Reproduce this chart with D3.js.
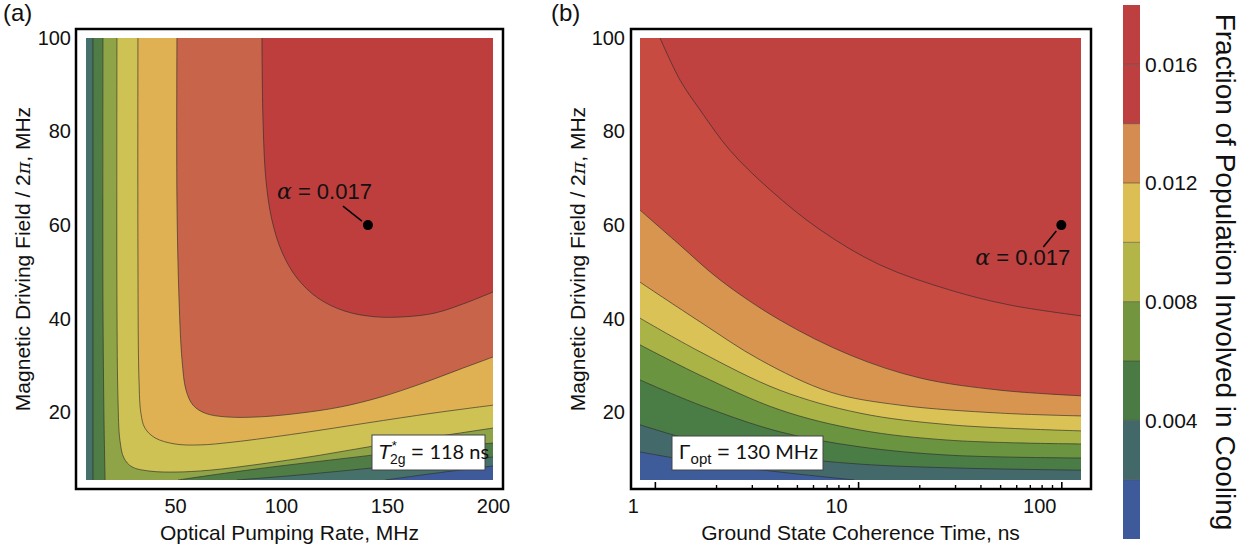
<!DOCTYPE html>
<html>
<head>
<meta charset="utf-8">
<script src="https://cdn.jsdelivr.net/npm/d3@7"></script>
<style>
  body { margin: 0; background: #fff; }
  svg text { font-family: "Liberation Sans", Arial, sans-serif; fill: #111; }
</style>
</head>
<body>
<svg id="fig" width="1251" height="552"></svg>
<script>
// ---- values ----
var levels = [0.002, 0.004, 0.006, 0.008, 0.010, 0.012, 0.014, 0.016];
var cbarDomain = [0, 0.018];
var cbarTicks = [0.004, 0.008, 0.012, 0.016];
var cbarColors = ['#3f5a9b', '#436869', '#4a7b45', '#74953f', '#b3b548', '#dbbf55', '#d48c50', '#be3f3f', '#be3f3f'];

var yTicks = [20, 40, 60, 80, 100];
var aXDomain = [8, 200], aYDomain = [5.5, 100];
var aXTicks = [50, 100, 150, 200];
var bXDomain = [0.845, 125], bYDomain = [5.5, 100];
var bXTicks = [1, 10, 100];
var bXMinor = [2, 3, 4, 5, 6, 7, 8, 9, 20, 30, 40, 50, 60, 70, 80, 90];

// panel (a): contour lines [pumping rate MHz, field MHz], low level first
var aLevel1 = [[8, 100], [8, 5.5], [149.1, 5.5], [170.3, 6.8], [189.2, 7.9], [200, 8.5]];
var aLevel2 = [[11.3, 100], [11.3, 5.5], [79.2, 5.5], [104.2, 6.4], [132.5, 7.6], [165.6, 9.1], [200, 10.4]];
var aLevel3 = [[16.0, 100], [16.0, 44.0], [16.5, 18.3], [17.0, 5.5], [51.4, 5.5], [71.2, 6.8], [99.5, 8.5], [127.8, 10.0], [156.1, 11.5], [179.7, 12.6], [200, 13.4]];
var aLevel4 = [[22.6, 100], [22.6, 44.0], [23.1, 22.6], [24.0, 14.0], [25.9, 10.2], [29.7, 8.3], [38.2, 7.4], [50.0, 7.2], [66.5, 7.6], [90.1, 8.9], [118.4, 10.8], [146.7, 13.0], [175.0, 14.9], [200, 16.6]];
var aLevel5 = [[32.5, 100], [32.5, 54.7], [33.0, 26.9], [33.9, 19.8], [35.8, 16.6], [40.6, 14.5], [50.0, 13.2], [61.8, 13.0], [77.3, 13.6], [109.0, 15.5], [140.6, 17.7], [171.7, 19.8], [200, 21.5]];
var aLevel6 = [[50.9, 100], [50.9, 65.4], [51.9, 44.0], [53.3, 31.2], [55.2, 24.7], [58.5, 21.5], [64.1, 19.8], [73.6, 19.0], [90.1, 19.0], [109.0, 19.8], [127.9, 21.1], [146.8, 23.2], [165.6, 26.0], [184.5, 29.2], [200, 31.8]];
var aLevel7 = [[91.0, 100], [91.5, 82.5], [92.9, 69.6], [95.7, 61.1], [100.5, 54.2], [107.5, 48.7], [117.4, 44.4], [130.2, 41.6], [144.3, 40.4], [158.5, 40.4], [172.6, 41.2], [186.8, 43.3], [200, 45.7]];
var aFill = ['#3f5a9a', '#46706a', '#4f7d45', '#8fa447', '#cdc253', '#dfb152', '#c8644a', '#be3e3e'];

// panel (b): contour lines [coherence time ns, field MHz], low level first
var bLevel1 = [[0.845, 11.5], [1.67, 9.3], [4.12, 7.2], [9.6, 5.5]];
var bLevel2 = [[0.845, 17.3], [1.67, 13.6], [4.12, 10.6], [10.2, 8.9], [28.4, 8.1], [125, 7.6]];
var bLevel3 = [[0.845, 26.9], [1.67, 21.5], [4.12, 15.8], [10.2, 12.6], [28.4, 10.8], [125, 10.2]];
var bLevel4 = [[0.845, 34.4], [1.67, 27.9], [4.12, 20.5], [10.2, 16.2], [28.4, 14.0], [125, 13.2]];
var bLevel5 = [[0.845, 40.1], [1.67, 32.9], [4.12, 24.7], [10.2, 19.8], [28.4, 17.3], [125, 16.0]];
var bLevel6 = [[0.845, 47.8], [1.67, 39.3], [3.29, 31.2], [7.3, 24.3], [16.1, 21.5], [50, 19.8], [125, 19.2]];
var bLevel7 = [[0.845, 63.2], [1.33, 55.7], [2.09, 48.3], [4.12, 39.7], [9.14, 32.2], [20.2, 27.3], [50, 24.7], [125, 23.5]];
var bLevel8 = [[1.06, 100], [1.33, 91], [1.67, 84.6], [2.34, 76], [3.7, 67.5], [6.5, 59], [12.8, 51.5], [28.4, 46.1], [56, 42.9], [125, 40.6]];
var bFill = ['#3e5c9a', '#44696a', '#4a7c46', '#6a9440', '#aab446', '#dbc256', '#d8954f', '#c74b41', '#bf4140'];

var aMarker = [141, 60];
var bMarker = [100, 60];
var alphaValue = '0.017';

var svg = d3.select('#fig');

// perimeter position, counter-clockwise from bottom-right corner
function perim(p, r) {
    var w = r.x1 - r.x0, h = r.y1 - r.y0, e = 0.5;
    if (Math.abs(p[0] - r.x1) < e) return (r.y1 - p[1]) / h;
    if (Math.abs(p[1] - r.y0) < e) return 1 + (r.x1 - p[0]) / w;
    if (Math.abs(p[0] - r.x0) < e) return 2 + (p[1] - r.y0) / h;
    return 3 + (p[0] - r.x0) / w;
}

function closingCorners(pts, r) {
    var corners = [[r.x1, r.y0], [r.x0, r.y0], [r.x0, r.y1], [r.x1, r.y1]];
    var se = perim(pts[pts.length - 1], r);
    var ss = perim(pts[0], r);
    if (ss <= se) ss += 4;
    var out = [];
    for (var k = 1; k <= 8; k++) {
        if (k > se + 1e-6 && k < ss - 1e-6) out.push(corners[(k - 1) % 4]);
    }
    return out;
}

function sameEdge(p, q, r) {
    var e = 0.5;
    if (Math.abs(p[0] - r.x0) < e && Math.abs(q[0] - r.x0) < e) return true;
    if (Math.abs(p[0] - r.x1) < e && Math.abs(q[0] - r.x1) < e) return true;
    if (Math.abs(p[1] - r.y0) < e && Math.abs(q[1] - r.y0) < e) return true;
    if (Math.abs(p[1] - r.y1) < e && Math.abs(q[1] - r.y1) < e) return true;
    return false;
}

// split a contour into pieces: smooth runs inside the plot, straight runs on its edge
function pieces(pts, r) {
    var out = [], cur = [pts[0]];
    for (var i = 1; i < pts.length; i++) {
        if (sameEdge(pts[i - 1], pts[i], r)) {
            if (cur.length > 1) out.push({edge: false, pts: cur});
            out.push({edge: true, pts: [pts[i - 1], pts[i]]});
            cur = [pts[i]];
        } else {
            cur.push(pts[i]);
        }
    }
    if (cur.length > 1) out.push({edge: false, pts: cur});
    return out;
}

function drawPanel(opt) {
    var r = opt.plot, x = opt.x, y = opt.y;
    var g = svg.append('g');

    svg.append('clipPath').attr('id', 'clip-' + opt.name)
      .append('rect')
        .attr('x', r.x0).attr('y', r.y0)
        .attr('width', r.x1 - r.x0).attr('height', r.y1 - r.y0);

    var body = g.append('g').attr('clip-path', 'url(#clip-' + opt.name + ')');
    body.append('rect')
        .attr('x', r.x0).attr('y', r.y0)
        .attr('width', r.x1 - r.x0).attr('height', r.y1 - r.y0)
        .attr('fill', opt.fill[0]);

    var smooth = d3.line().curve(d3.curveCatmullRom.alpha(0.5));
    var straight = d3.line();

    var scaled = opt.contours.map(function(c) {
        return c.map(function(d) { return [x(d[0]), y(d[1])]; });
    });

    scaled.forEach(function(pts, i) {
        var parts = pieces(pts, r);
        var d = parts.map(function(p, k) {
            var s = p.edge ? straight(p.pts) : smooth(p.pts);
            return k === 0 ? s : s.replace(/^M/, 'L');
        }).join('');
        d += closingCorners(pts, r).map(function(c) { return 'L' + c[0] + ',' + c[1]; }).join('') + 'Z';
        body.append('path').attr('d', d).attr('fill', opt.fill[i + 1]);
    });

    // contour lines, skipping parts that run along the plot edge
    scaled.forEach(function(pts) {
        pieces(pts, r).filter(function(p) { return !p.edge; }).forEach(function(p) {
            body.append('path').attr('d', smooth(p.pts))
                .attr('fill', 'none')
                .attr('stroke', '#2b2b2b')
                .attr('stroke-opacity', 0.7)
                .attr('stroke-width', 0.9);
        });
    });

    // frame
    g.append('rect')
        .attr('x', opt.frame.x0).attr('y', opt.frame.y0)
        .attr('width', opt.frame.x1 - opt.frame.x0).attr('height', opt.frame.y1 - opt.frame.y0)
        .attr('fill', 'none').attr('stroke', '#000').attr('stroke-width', 2.5);

    // y axis labels
    var ya = g.append('g')
        .attr('transform', 'translate(' + opt.yLabelX + ',0)')
        .call(d3.axisLeft(y).tickValues(yTicks).tickSize(0).tickPadding(0));
    ya.select('.domain').remove();
    ya.selectAll('text').attr('font-size', 20).attr('fill', '#111');

    // panel letter
    g.append('text').attr('x', opt.letterX).attr('y', 21)
        .attr('font-size', 24).text(opt.letter);

    // axis titles
    g.append('text')
        .attr('x', (r.x0 + r.x1) / 2).attr('y', 540)
        .attr('text-anchor', 'middle').attr('font-size', 21)
        .text(opt.xTitle);

    var yt = g.append('text')
        .attr('transform', 'translate(' + opt.yTitleX + ',' + (r.y0 + r.y1) / 2 + ') rotate(-90)')
        .attr('text-anchor', 'middle').attr('font-size', 21);
    yt.append('tspan').text('Magnetic Driving Field / 2');
    yt.append('tspan').attr('font-style', 'italic').attr('font-family', 'DejaVu Serif').attr('font-size', 19).text('\u03c0');
    yt.append('tspan').text(', MHz');

    return g;
}

function alphaMark(g, px, py, tx, ty, l0, l1) {
    g.append('line')
        .attr('x1', px + l0[0]).attr('y1', py + l0[1])
        .attr('x2', px + l1[0]).attr('y2', py + l1[1])
        .attr('stroke', '#000').attr('stroke-width', 1.5);
    g.append('circle').attr('cx', px).attr('cy', py).attr('r', 5).attr('fill', '#000');
    var t = g.append('text').attr('x', px + tx).attr('y', py + ty).attr('font-size', 22);
    t.append('tspan').attr('font-style', 'italic').attr('font-family', 'DejaVu Serif').text('\u03b1');
    t.append('tspan').text(' = ' + alphaValue);
}

// ---- panel (a) ----
var aPlot = {x0: 86, x1: 493, y0: 38, y1: 480};
var ax = d3.scaleLinear().domain(aXDomain).range([aPlot.x0, aPlot.x1]);
var ay = d3.scaleLinear().domain(aYDomain).range([aPlot.y1, aPlot.y0]);
var ga = drawPanel({
    name: 'a', plot: aPlot, frame: {x0: 76, x1: 503, y0: 29, y1: 489},
    x: ax, y: ay, fill: aFill,
    contours: [aLevel1, aLevel2, aLevel3, aLevel4, aLevel5, aLevel6, aLevel7],
    yLabelX: 71, letter: '(a)', letterX: 3, yTitleX: 30,
    xTitle: 'Optical Pumping Rate, MHz'
});
var axa = ga.append('g').attr('transform', 'translate(0,489)')
    .call(d3.axisBottom(ax).tickValues(aXTicks).tickSize(0).tickPadding(10));
axa.select('.domain').remove();
axa.selectAll('text').attr('font-size', 20).attr('fill', '#111');

alphaMark(ga, ax(aMarker[0]), ay(aMarker[1]), -91, -26, [-25, -19], [-6, -4]);

// inset (a)
ga.append('rect').attr('x', 372).attr('y', 435).attr('width', 113).attr('height', 35)
    .attr('fill', '#fff').attr('stroke', '#444').attr('stroke-width', 1);
var ta = ga.append('text').attr('x', 378).attr('y', 459).attr('font-size', 21)
    .attr('font-family', 'Liberation Serif');
ta.append('tspan').attr('font-style', 'italic').text('T');
ta.append('tspan').attr('font-size', 13).attr('dy', -9).attr('dx', 1).text('*');
ta.append('tspan').attr('font-size', 14).attr('dy', 14).attr('dx', -7).text('2g');
ta.append('tspan').attr('dy', -5).text(' = ');
ta.append('tspan').attr('font-family', 'Lato').attr('font-size', 20).text('118 ns');

// ---- panel (b) ----
var bPlot = {x0: 640, x1: 1081, y0: 38, y1: 480};
var bx = d3.scaleLog().domain(bXDomain).range([bPlot.x0, bPlot.x1]);
var by = d3.scaleLinear().domain(bYDomain).range([bPlot.y1, bPlot.y0]);
var gb = drawPanel({
    name: 'b', plot: bPlot, frame: {x0: 631, x1: 1091, y0: 29, y1: 489},
    x: bx, y: by, fill: bFill,
    contours: [bLevel1, bLevel2, bLevel3, bLevel4, bLevel5, bLevel6, bLevel7, bLevel8],
    yLabelX: 625, letter: '(b)', letterX: 551, yTitleX: 585,
    xTitle: 'Ground State Coherence Time, ns'
});
var bxMinor = gb.append('g').attr('transform', 'translate(0,488)')
    .call(d3.axisBottom(bx).tickValues(bXMinor).tickSize(-3).tickFormat(''));
bxMinor.select('.domain').remove();
bxMinor.selectAll('line').attr('stroke-width', 1.4);
var bxMajor = gb.append('g').attr('transform', 'translate(0,488)')
    .call(d3.axisBottom(bx).tickValues(bXTicks).tickSize(-6).tickPadding(11).tickFormat(d3.format('d')));
bxMajor.select('.domain').remove();
bxMajor.selectAll('line').attr('stroke-width', 1.6);
bxMajor.selectAll('text').attr('font-size', 20).attr('fill', '#111').attr('dx', -22);

alphaMark(gb, bx(bMarker[0]), by(bMarker[1]), -86, 40, [-18, 22], [-5, 6]);

// inset (b)
gb.append('rect').attr('x', 672).attr('y', 436).attr('width', 151).attr('height', 34)
    .attr('fill', '#fff').attr('stroke', '#444').attr('stroke-width', 1);
var tb = gb.append('text').attr('x', 679).attr('y', 459).attr('font-size', 21)
    .attr('font-family', 'Liberation Serif');
tb.append('tspan').text('\u0393');
tb.append('tspan').attr('font-size', 15).attr('dy', 5).text('opt');
tb.append('tspan').attr('dy', -5).text(' = ');
tb.append('tspan').attr('font-family', 'Lato').attr('font-size', 20).text('130 MHz');

// ---- colour bar ----
var cb = svg.append('g');
var cy = d3.scaleLinear().domain(cbarDomain).range([539, 5]);
var bands = d3.range(cbarColors.length);
cb.selectAll('rect.band').data(bands).enter().append('rect')
    .attr('class', 'band')
    .attr('x', 1123).attr('width', 17)
    .attr('y', function(i) { return cy((i + 1) * 0.002); })
    .attr('height', function(i) { return cy(i * 0.002) - cy((i + 1) * 0.002); })
    .attr('fill', function(i) { return cbarColors[i]; });
cb.selectAll('line.sep').data(levels).enter().append('line')
    .attr('class', 'sep')
    .attr('x1', 1123).attr('x2', 1140)
    .attr('y1', function(d) { return cy(d); }).attr('y2', function(d) { return cy(d); })
    .attr('stroke', '#333').attr('stroke-opacity', 0.5).attr('stroke-width', 1);
var cba = cb.append('g').attr('transform', 'translate(1141,0)')
    .call(d3.axisRight(cy).tickValues(cbarTicks).tickSize(0).tickPadding(4).tickFormat(d3.format('.3f')));
cba.select('.domain').remove();
cba.selectAll('text').attr('font-size', 21).attr('fill', '#111');

cb.append('text')
    .attr('transform', 'translate(1216,272) rotate(90)')
    .attr('text-anchor', 'middle').attr('font-size', 28)
    .text('Fraction of Population Involved in Cooling');
</script>
</body>
</html>
